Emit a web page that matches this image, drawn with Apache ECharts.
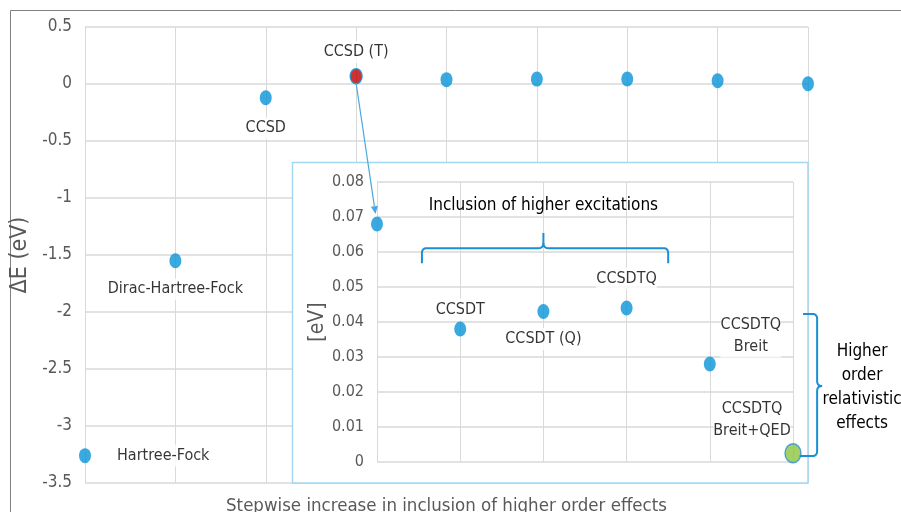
<!DOCTYPE html>
<html>
<head>
<meta charset="utf-8">
<script src="https://cdn.jsdelivr.net/npm/echarts@6/dist/echarts.min.js"></script>
<style>
  html, body { margin: 0; padding: 0; background: #fff; }
  #chart { width: 901px; height: 512px; }
</style>
</head>
<body>
<div id="chart"></div>
<script>
// steps of the calculation, left to right
const methods = ['Hartree-Fock', 'Dirac-Hartree-Fock', 'CCSD', 'CCSD (T)', 'CCSDT',
  'CCSDT (Q)', 'CCSDTQ', 'CCSDTQ\nBreit', 'CCSDTQ\nBreit+QED'];
// energy difference in eV for each step
const deltaE = [-3.26, -1.55, -0.12, 0.068, 0.038, 0.043, 0.044, 0.028, 0.0025];
// first step repeated in the zoomed panel
const insetFrom = 3;

const FONT = '"DejaVu Sans Condensed", "DejaVu Sans", sans-serif';
const BLUE = '#0893d8';
const GRID = '#d9d9d9';
const TICK = '#595959';

// label placement per step
const mainLabel = {
  0: { position: 'right', distance: 26 },
  1: { position: 'bottom', distance: 10 },
  2: { position: 'bottom', distance: 12 },
  3: { position: 'top', distance: 5 }
};
const insetLabel = {
  4: { position: 'top', distance: 1 },
  5: { position: 'bottom', distance: 9 },
  6: { position: 'top', distance: 11 },
  7: { position: 'top', distance: -1, offset: [41, 0] },
  8: { position: 'top', distance: 1, offset: [-41, 0] }
};

function pointStyle(i, inset) {
  if (i === 3 && !inset) return { color: '#c00000', borderColor: BLUE, borderWidth: 1.5 };
  if (i === 8 && inset) return { color: '#8dc63f', borderColor: '#2a8fd4', borderWidth: 1.5 };
  return { color: BLUE };
}

function makeData(from, labels) {
  const inset = from > 0;
  const out = [];
  for (let i = from; i < deltaE.length; i++) {
    const lab = labels[i];
    out.push({
      value: [i, deltaE[i]],
      name: methods[i],
      symbolSize: i === 8 && inset ? [16, 19] : [12, 15],
      itemStyle: pointStyle(i, inset),
      label: lab ? Object.assign({ show: true }, lab) : { show: false }
    });
  }
  return out;
}

const labelStyle = {
  formatter: p => p.name,
  color: '#000',
  fontFamily: FONT,
  fontSize: 16,
  lineHeight: 22,
  backgroundColor: '#fff'
};

const chart = echarts.init(document.getElementById('chart'));

const option = {
  animation: false,
  grid: [
    { left: 85, right: 93, top: 27, bottom: 29, outerBoundsMode: 'none' },
    { left: 377, right: 108, top: 182, bottom: 50, outerBoundsMode: 'none' }
  ],
  xAxis: [
    {
      gridIndex: 0, type: 'value', min: 0, max: methods.length - 1, interval: 1,
      name: 'Stepwise increase in inclusion of higher order effects',
      nameLocation: 'middle', nameGap: 14,
      nameTextStyle: { color: TICK, fontFamily: FONT, fontSize: 18.5 },
      axisLine: { show: false }, axisTick: { show: false }, axisLabel: { show: false },
      splitLine: { show: true, lineStyle: { color: GRID, width: 1 } }
    },
    {
      gridIndex: 1, type: 'value', min: insetFrom, max: methods.length - 1, interval: 1, z: 3,
      axisLine: { show: false }, axisTick: { show: false }, axisLabel: { show: false },
      splitLine: { show: true, lineStyle: { color: GRID, width: 1 } }
    }
  ],
  yAxis: [
    {
      gridIndex: 0, type: 'value', min: -3.5, max: 0.5, interval: 0.5,
      name: 'ΔE (eV)', nameLocation: 'middle', nameRotate: 90, nameGap: 49,
      nameTextStyle: { color: TICK, fontFamily: FONT, fontSize: 23 },
      axisLine: { show: false }, axisTick: { show: false },
      axisLabel: { color: TICK, fontFamily: FONT, fontSize: 17, margin: 13 },
      splitLine: { lineStyle: { color: GRID, width: 1.5 } }
    },
    {
      gridIndex: 1, type: 'value', min: 0, max: 0.08, interval: 0.01, z: 3,
      name: '[eV]', nameLocation: 'middle', nameRotate: 90, nameGap: 47,
      nameTextStyle: { color: TICK, fontFamily: FONT, fontSize: 21 },
      axisLine: { show: false }, axisTick: { show: false },
      axisLabel: { color: TICK, fontFamily: FONT, fontSize: 16, margin: 13 },
      splitLine: { lineStyle: { color: GRID, width: 1.5 } }
    }
  ],
  series: [
    {
      type: 'scatter', xAxisIndex: 0, yAxisIndex: 0, z: 4,
      label: labelStyle,
      data: makeData(0, mainLabel)
    },
    {
      type: 'scatter', xAxisIndex: 1, yAxisIndex: 1, z: 5,
      label: labelStyle,
      data: makeData(insetFrom, insetLabel)
    }
  ]
};
chart.setOption(option);

// annotations placed through the axes
const mainPx = (x, y) => chart.convertToPixel({ gridIndex: 0 }, [x, y]);
const insetPx = (x, y) => chart.convertToPixel({ gridIndex: 1 }, [x, y]);

// quadratic corner points for the braces
function quad(p0, c, p1, out) {
  for (let k = 1; k <= 6; k++) {
    const t = k / 6, s = 1 - t;
    out.push([s * s * p0[0] + 2 * s * t * c[0] + t * t * p1[0], s * s * p0[1] + 2 * s * t * c[1] + t * t * p1[1]]);
  }
}

const corner = mainPx(methods.length - 1, -3.5);
const boxLeft = 292.5, boxTop = 162.5;

// arrow from the CCSD (T) point down into the panel
const a0 = mainPx(insetFrom, deltaE[insetFrom]);
const a1 = insetPx(insetFrom, deltaE[insetFrom]);
const start = [a0[0], a0[1] + 7];
const dx = a1[0] - start[0], dy = a1[1] - start[1];
const len = Math.hypot(dx, dy);
const ux = dx / len, uy = dy / len;
const tip = [a1[0] - ux * 10, a1[1] - uy * 10];
const hb = [tip[0] - ux * 8, tip[1] - uy * 8];
const head = [tip, [hb[0] - uy * 3.5, hb[1] + ux * 3.5], [hb[0] + uy * 3.5, hb[1] - ux * 3.5]];

const r = 5;
// horizontal brace over the excitation steps
const bl = insetPx(3.54, 0)[0], br = insetPx(6.5, 0)[0], bm = insetPx(5, 0)[0];
const bh = insetPx(5, 0.0611)[1], be = insetPx(5, 0.0568)[1], bt = insetPx(5, 0.0654)[1];
const hLeft = [[bl, be], [bl, bh + r]];
quad([bl, bh + r], [bl, bh], [bl + r, bh], hLeft);
hLeft.push([bm - r, bh]);
quad([bm - r, bh], [bm, bh], [bm, bh - r], hLeft);
hLeft.push([bm, bt]);
const hRight = [[bm, bh - r]];
quad([bm, bh - r], [bm, bh], [bm + r, bh], hRight);
hRight.push([br - r, bh]);
quad([br - r, bh], [br, bh], [br, bh + r], hRight);
hRight.push([br, be]);

// vertical brace next to the relativistic steps
const vx = insetPx(8.29, 0)[0], vTopX = insetPx(8.12, 0)[0], vBotX = insetPx(8.08, 0)[0], vt = insetPx(8.35, 0)[0];
const vTop = insetPx(8, 0.0423)[1], vBot = insetPx(8, 0.0017)[1], vMid = insetPx(8, 0.0217)[1];
const vUp = [[vTopX, vTop], [vx - r, vTop]];
quad([vx - r, vTop], [vx, vTop], [vx, vTop + r], vUp);
vUp.push([vx, vMid - r]);
quad([vx, vMid - r], [vx, vMid], [vt, vMid], vUp);
const vDown = [[vt, vMid]];
quad([vt, vMid], [vx, vMid], [vx, vMid + r], vDown);
vDown.push([vx, vBot - r]);
quad([vx, vBot - r], [vx, vBot], [vx - r, vBot], vDown);
vDown.push([vBotX, vBot]);

const t1 = insetPx(5, 0.0734);
const t2 = insetPx(8.83, 0.0212);
const braceStyle = { stroke: '#1a8fd6', lineWidth: 2, fill: null };

chart.setOption({
  graphic: { elements: [
    { type: 'line', shape: { x1: 10.5, y1: 10.5, x2: 901, y2: 10.5 }, style: { stroke: '#808080', lineWidth: 1 } },
    { type: 'line', shape: { x1: 10.5, y1: 10.5, x2: 10.5, y2: 512 }, style: { stroke: '#808080', lineWidth: 1 } },
    {
      type: 'rect', z: 1,
      shape: { x: boxLeft, y: boxTop, width: corner[0] - boxLeft, height: corner[1] - boxTop },
      style: { fill: '#fff', stroke: '#a3d6ef', lineWidth: 1.5 }
    },
    { type: 'polyline', z: 6, shape: { points: [start, hb] }, style: { stroke: '#4aa8e0', lineWidth: 1.2, fill: null } },
    { type: 'polygon', z: 6, shape: { points: head }, style: { fill: '#4aa8e0' } },
    { type: 'polyline', z: 6, shape: { points: hLeft }, style: braceStyle },
    { type: 'polyline', z: 6, shape: { points: hRight }, style: braceStyle },
    { type: 'polyline', z: 6, shape: { points: vUp }, style: braceStyle },
    { type: 'polyline', z: 6, shape: { points: vDown }, style: braceStyle },
    {
      type: 'text', z: 6, x: t1[0], y: t1[1],
      style: { text: 'Inclusion of higher excitations', fill: '#000', font: `17px ${FONT}`, align: 'center', verticalAlign: 'middle' }
    },
    {
      type: 'text', z: 6, x: t2[0], y: t2[1],
      style: { text: 'Higher\norder\nrelativistic\neffects', fill: '#000', font: `17px ${FONT}`, lineHeight: 24, align: 'center', verticalAlign: 'middle' }
    }
  ] }
});
</script>
</body>
</html>
